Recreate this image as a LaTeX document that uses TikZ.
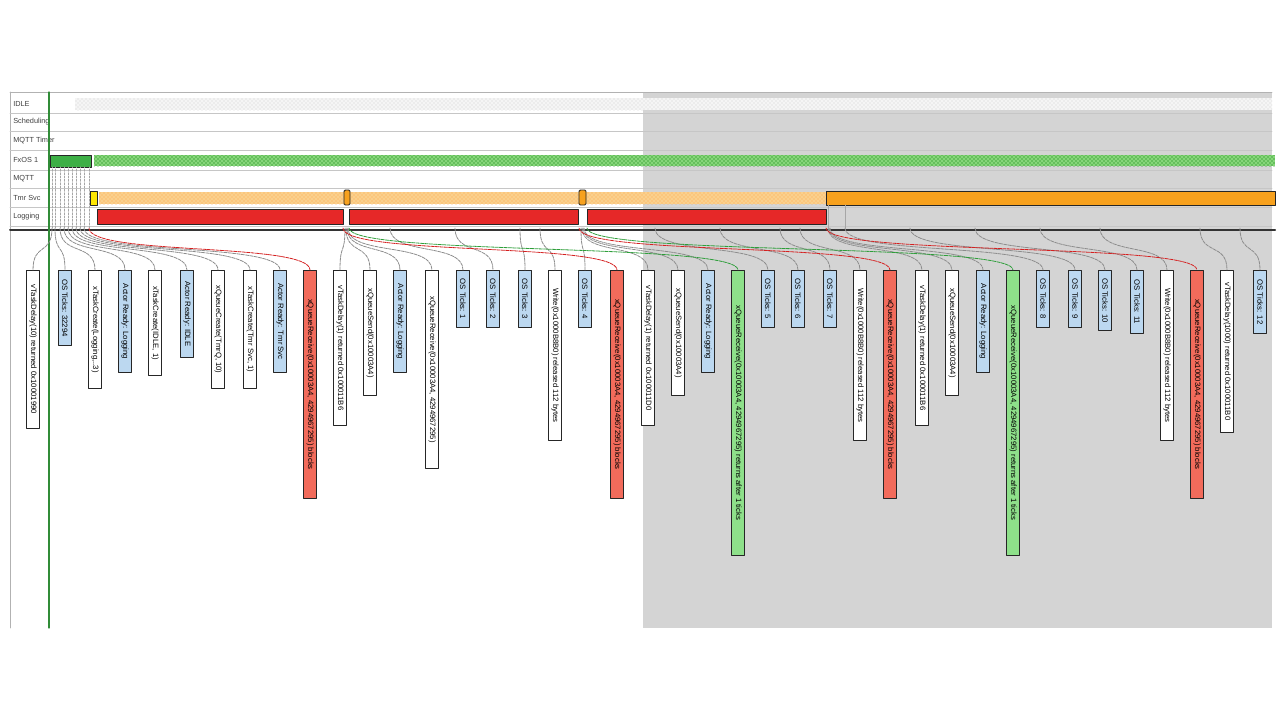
\documentclass[tikz,border=0pt]{standalone}
\usepackage{fontspec}
\setmainfont{Liberation Sans}
\usetikzlibrary{patterns}

\definecolor{regiongray}{HTML}{D4D4D4}
\definecolor{fxgreen}{HTML}{3DAF46}
\definecolor{fxdots}{HTML}{86D67A}
\definecolor{tmrdots}{HTML}{FAD08C}
\definecolor{tmrorange}{HTML}{F7A11E}
\definecolor{logred}{HTML}{E62828}
\definecolor{fillW}{HTML}{FFFFFF}
\definecolor{fillB}{HTML}{BCD8F0}
\definecolor{fillR}{HTML}{F26B5B}
\definecolor{fillG}{HTML}{8EE08A}
\definecolor{conW}{HTML}{8C8C8C}
\definecolor{conB}{HTML}{8C8C8C}
\definecolor{conR}{HTML}{D42020}
\definecolor{conG}{HTML}{2E9E3A}

\tikzset{
  rowtext/.style={anchor=west, font=\fontsize{5.5}{6}\selectfont, text=black!75, inner sep=0pt},
  rowline/.style={draw=gray!45, line width=0.5pt},
  evlabel/.style={draw=black!85, line width=0.7pt, fill=fill#1, rotate=-90, anchor=west,
    inner sep=1pt, minimum height=10pt, font=\fontsize{5.8}{6}\selectfont},
  evline/.style={draw=con#1, line width=0.6pt, dash pattern=on 2.5pt off 0.8pt},
  bar/.style={draw=black!85, line width=0.7pt}
}

\begin{document}
\begin{tikzpicture}[line cap=round,line join=round,x=0.75pt,y=-0.75pt]
  \useasboundingbox (0,0) rectangle (1280,721);
  \fill[regiongray] (643,92) rectangle (1272,628);
  \draw[gray!60, line width=0.6pt] (10,92) -- (1272,92);
  \draw[gray!60, line width=0.6pt] (10,92) -- (10,628);
  \foreach \y in {113,131,150,170,188,207,226}
    \draw[rowline] (10,\y) -- (1272,\y);
  \node[rowtext] (rIdle) at (13,104) {IDLE};
  \node[rowtext] (rSched) at (13,122) {Scheduling};
  \node[rowtext] (rTimer) at (13,141) {MQTT Timer};
  \node[rowtext] (rFxos) at (13,160) {FxOS 1};
  \node[rowtext] (rMqtt) at (13,179) {MQTT};
  \node[rowtext] (rTmr) at (13,198) {Tmr Svc};
  \node[rowtext] (rLog) at (13,217) {Logging};
  \fill[gray!8] (75,98) rectangle (1272,110);
  \fill[pattern=crosshatch dots, pattern color=gray!35] (75,98) rectangle (1272,110);
  \draw[bar, fill=fxgreen] (50,155) rectangle (91,167);
  \fill[fxdots] (94,155) rectangle (1275,166);
  \fill[pattern=crosshatch dots, pattern color=green!45!black] (94,155) rectangle (1275,166);
  \fill[tmrdots] (99,192) rectangle (826,204);
  \fill[pattern=crosshatch dots, pattern color=orange!70] (99,192) rectangle (826,204);
  \draw[bar, fill=yellow!90!orange] (90,191) rectangle (97,205);
  \draw[bar, fill=tmrorange, rounded corners=1pt] (344,190) rectangle (350,205);
  \draw[bar, fill=tmrorange, rounded corners=1pt] (579,190) rectangle (586,205);
  \draw[bar, fill=tmrorange] (826,191) rectangle (1275,205);
  \draw[bar, fill=logred] (97,209) rectangle (343,224);
  \draw[bar, fill=logred] (349,209) rectangle (578,224);
  \draw[bar, fill=logred] (587,209) rectangle (826,224);
  \draw[gray!70, line width=0.5pt] (828,205) -- (828,228) (845,205) -- (845,228);
  \draw[black!80, line width=1.5pt] (10,230) -- (1275,230);
  \draw[fxgreen!80!black, line width=0.8pt] (49,92) -- (49,628);
  \foreach \i/\x/\b/\k/\a/\t in {
    1/33/428/W/52/{vTaskDelay(10) returned 0x10001990},
    2/65/345/B/55/{OS Ticks: 32294},
    3/95/388/W/60/{xTaskCreate(Logging,..3)},
    4/125/372/B/64/{Actor Ready: Logging},
    5/155/375/W/68/{xTaskCreate(IDLE, 1)},
    6/187/357/B/72/{Actor Ready: IDLE},
    7/218/388/W/76/{xQueueCreate(TmrQ, 10)},
    8/250/388/W/80/{xTaskCreate(Tmr Svc, 1)},
    9/280/372/B/84/{Actor Ready: Tmr Svc},
    10/310/498/R/89/{xQueueReceive(0x10003A4, 4294967295) blocks},
    11/340/425/W/345/{vTaskDelay(1) returned 0x100011B6},
    12/370/395/W/346/{xQueueSend(0x10003A4)},
    13/400/372/B/347/{Actor Ready: Logging},
    14/432/468/W/348/{xQueueReceive(0x10003A4, 4294967295)},
    15/463/327/B/390/{OS Ticks: 1},
    16/493/327/B/455/{OS Ticks: 2},
    17/525/327/B/520/{OS Ticks: 3},
    18/555/440/W/540/{Write(0x1000B8B0) released 112 bytes},
    19/585/327/B/581/{OS Ticks: 4},
    20/617/498/R/343/{xQueueReceive(0x10003A4, 4294967295) blocks},
    21/648/425/W/582/{vTaskDelay(1) returned 0x100011D0},
    22/678/395/W/583/{xQueueSend(0x10003A4)},
    23/708/372/B/584/{Actor Ready: Logging},
    24/738/555/G/349/{xQueueReceive(0x10003A4, 4294967295) returns after 1 ticks},
    25/768/327/B/655/{OS Ticks: 5},
    26/798/327/B/720/{OS Ticks: 6},
    27/830/327/B/780/{OS Ticks: 7},
    28/860/440/W/800/{Write(0x1000B8B0) released 112 bytes},
    29/890/498/R/579/{xQueueReceive(0x10003A4, 4294967295) blocks},
    30/922/425/W/828/{vTaskDelay(1) returned 0x100011B6},
    31/952/395/W/829/{xQueueSend(0x10003A4)},
    32/983/372/B/830/{Actor Ready: Logging},
    33/1013/555/G/587/{xQueueReceive(0x10003A4, 4294967295) returns after 1 ticks},
    34/1043/327/B/845/{OS Ticks: 8},
    35/1075/327/B/910/{OS Ticks: 9},
    36/1105/330/B/975/{OS Ticks: 10},
    37/1137/333/B/1040/{OS Ticks: 11},
    38/1167/440/W/1100/{Write(0x1000B8B0) released 112 bytes},
    39/1197/498/R/826/{xQueueReceive(0x10003A4, 4294967295) blocks},
    40/1227/432/W/1200/{vTaskDelay(1000) returned 0x100011B0},
    41/1260/333/B/1240/{OS Ticks: 12}} {
    \node[evlabel=\k, minimum width={(\b-270)*0.75pt}] (l\i) at (\x,270) {\t};
    \coordinate (a\i) at (\a,228);
    \draw[evline=\k] (a\i) .. controls +(0,28) and +(0,-28) .. (l\i.west);
  }
  \foreach \i in {1,...,10}
    \draw[gray!70, line width=0.5pt, dash pattern=on 1.5pt off 1pt] (a\i) -- ++(0,-61);
\end{tikzpicture}
\end{document}
